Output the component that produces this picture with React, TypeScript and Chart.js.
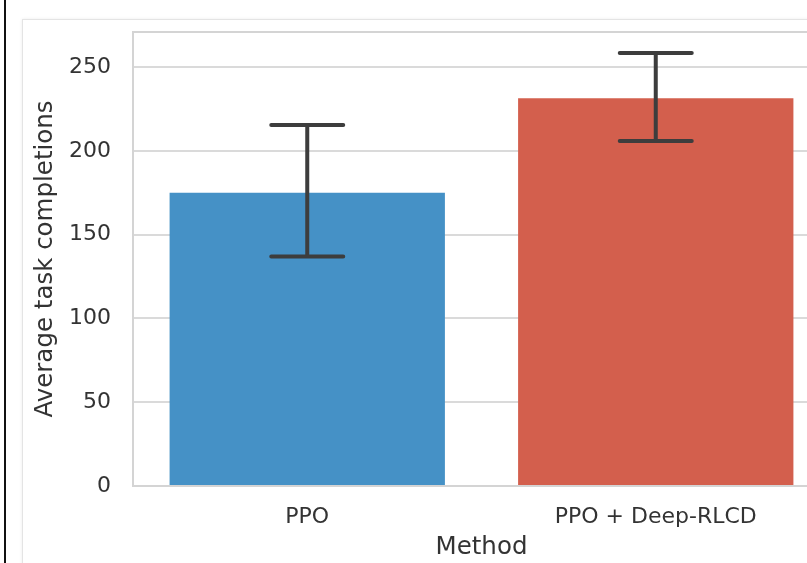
import React, { useEffect, useRef } from "react";
import { Chart, registerables } from "chart.js";

Chart.register(...registerables);

const categories = ["PPO", "PPO + Deep-RLCD"];
const meanValues = [175, 231.5];
const errLow = [137, 206];
const errHigh = [215.5, 258.5];
const barColors = ["#4591c6", "#d35f4d"];
const yTicks = [0, 50, 100, 150, 200, 250];

const FONT = "'DejaVu Sans', sans-serif";

export default function App() {
  const ref = useRef<HTMLCanvasElement | null>(null);

  useEffect(() => {
    if (!ref.current) return;
    const frame = {
      id: "frame",
      beforeDatasetsDraw(chart: any) {
        const { ctx, chartArea } = chart;
        ctx.save();
        ctx.strokeStyle = "#d4d4d4";
        ctx.lineWidth = 2;
        ctx.strokeRect(chartArea.left, chartArea.top, chartArea.right - chartArea.left, chartArea.bottom - chartArea.top);
        ctx.restore();
      },
    };
    const errorBars = {
      id: "errorBars",
      afterDatasetsDraw(chart: any) {
        const { ctx } = chart;
        const meta = chart.getDatasetMeta(0);
        const ys = chart.scales.y;
        ctx.save();
        ctx.strokeStyle = "#3d3d3d";
        ctx.lineWidth = 4;
        ctx.lineCap = "round";
        meta.data.forEach((bar: any, i: number) => {
          const x = bar.x;
          const yl = ys.getPixelForValue(errLow[i]);
          const yh = ys.getPixelForValue(errHigh[i]);
          const cap = 36;
          ctx.beginPath();
          ctx.moveTo(x, yl);
          ctx.lineTo(x, yh);
          ctx.moveTo(x - cap, yl);
          ctx.lineTo(x + cap, yl);
          ctx.moveTo(x - cap, yh);
          ctx.lineTo(x + cap, yh);
          ctx.stroke();
        });
        ctx.restore();
      },
    };
    const chart = new Chart(ref.current, {
      type: "bar",
      data: {
        labels: categories,
        datasets: [
          {
            data: meanValues,
            backgroundColor: barColors,
            borderWidth: 0,
            barPercentage: 0.79,
            categoryPercentage: 1,
          },
        ],
      },
      options: {
        responsive: false,
        animation: false,
        devicePixelRatio: 1,
        layout: { padding: { top: 32, left: 0, right: 0, bottom: 0 } },
        plugins: { legend: { display: false }, tooltip: { enabled: false } },
        scales: {
          x: {
            grid: { display: false, drawTicks: false },
            border: { display: false },
            ticks: { color: "#333333", font: { family: FONT, size: 22 }, padding: 18 },
            title: {
              display: true,
              text: "Method",
              color: "#333333",
              font: { family: FONT, size: 24.5 },
              padding: { top: 0, bottom: 1 },
            },
            afterFit(scale: any) {
              scale.height = 77;
              scale.paddingLeft = 0;
              scale.paddingRight = 0;
            },
          },
          y: {
            min: 0,
            max: 271,
            afterBuildTicks(scale: any) {
              scale.ticks = yTicks.map((v) => ({ value: v }));
            },
            grid: { color: "#dadada", lineWidth: 2, drawTicks: false },
            border: { display: false },
            ticks: { color: "#333333", font: { family: FONT, size: 22 }, padding: 22 },
            title: {
              display: true,
              text: "Average task completions",
              color: "#333333",
              font: { family: FONT, size: 24.5 },
              padding: { top: 31, bottom: 0 },
            },
            afterFit(scale: any) {
              scale.width = 133;
              scale.paddingTop = 0;
              scale.paddingBottom = 0;
            },
          },
        },
      },
      plugins: [frame, errorBars],
    });
    return () => chart.destroy();
  }, []);

  return (
    <div
      style={{
        position: "fixed",
        left: 0,
        top: 0,
        width: 807,
        height: 563,
        overflow: "hidden",
        background: "#ffffff",
      }}
    >
      <div
        style={{
          position: "absolute",
          left: 22,
          top: 19,
          width: 900,
          height: 700,
          border: "1px solid #e4e4e4",
          boxShadow: "0 0 3px rgba(0,0,0,0.08)",
          background: "#ffffff",
        }}
      />
      <canvas
        ref={ref}
        width={830}
        height={563}
        style={{ position: "absolute", left: 0, top: 0, width: 830, height: 563 }}
      />
      <div
        style={{
          position: "absolute",
          left: 4,
          top: 0,
          width: 2,
          height: 563,
          background: "#111111",
        }}
      />
    </div>
  );
}
